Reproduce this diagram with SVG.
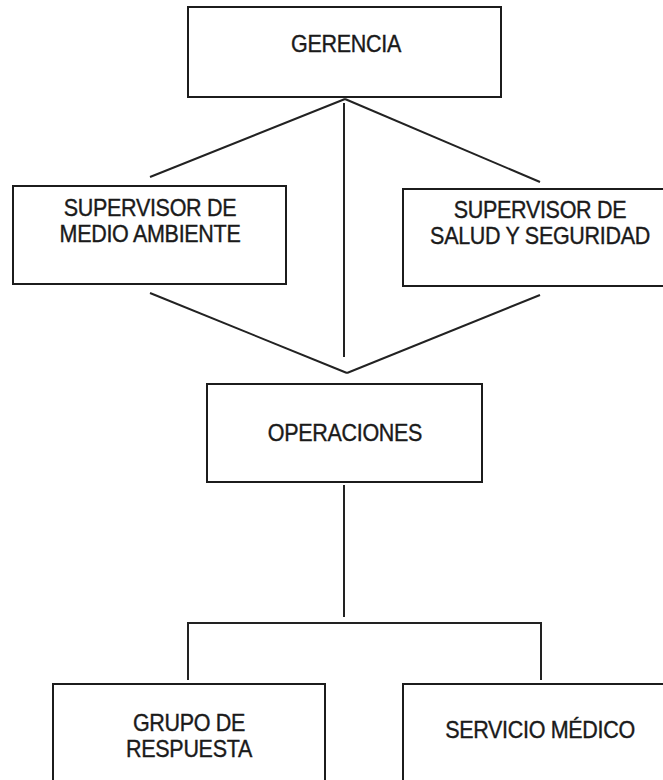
<svg xmlns="http://www.w3.org/2000/svg" width="663" height="780" viewBox="0 0 663 780">
<style>
.box{fill:#fff;stroke:#1c1c1c;stroke-width:2}
.ln{fill:none;stroke:#222;stroke-width:2}
.t{font-family:"Liberation Sans",Arial,sans-serif;font-size:21.5px;fill:#1a1a1a;stroke:#1a1a1a;stroke-width:0.35;text-anchor:middle;letter-spacing:-0.3px}
</style>
<rect width="663" height="780" fill="#fff"/>
<g id="connectors">
<line class="ln" x1="345" y1="99" x2="150" y2="177"/>
<line class="ln" x1="345" y1="99" x2="540" y2="182"/>
<line class="ln" x1="344" y1="103" x2="344" y2="357"/>
<line class="ln" x1="150" y1="293" x2="347" y2="373"/>
<line class="ln" x1="540" y1="295" x2="347" y2="373"/>
<line class="ln" x1="344" y1="485" x2="344" y2="617"/>
<polyline class="ln" points="188,680 188,623 541,623 541,680"/>
</g>
<g id="gerencia">
<rect class="box" x="188" y="7" width="313" height="90"/>
<text class="t" transform="translate(346 52) scale(1 1.08)" x="0" y="0">GERENCIA</text>
</g>
<g id="sup-medio">
<rect class="box" x="13" y="186" width="273" height="98"/>
<text class="t" transform="translate(150 216) scale(1 1.08)" x="0" y="0">SUPERVISOR DE</text>
<text class="t" transform="translate(150 242) scale(1 1.08)" x="0" y="0">MEDIO AMBIENTE</text>
</g>
<g id="sup-salud">
<rect class="box" x="403" y="189" width="274" height="97"/>
<text class="t" transform="translate(540 218) scale(1 1.08)" x="0" y="0">SUPERVISOR DE</text>
<text class="t" transform="translate(540 244) scale(1 1.08)" x="0" y="0">SALUD Y SEGURIDAD</text>
</g>
<g id="operaciones">
<rect class="box" x="207" y="384" width="275" height="98"/>
<text class="t" transform="translate(345 441) scale(1 1.08)" x="0" y="0">OPERACIONES</text>
</g>
<g id="grupo">
<rect class="box" x="53" y="684" width="272" height="110"/>
<text class="t" transform="translate(189 731) scale(1 1.08)" x="0" y="0">GRUPO DE</text>
<text class="t" transform="translate(189 757) scale(1 1.08)" x="0" y="0">RESPUESTA</text>
</g>
<g id="servicio">
<rect class="box" x="403" y="684" width="274" height="110"/>
<text class="t" transform="translate(540 738) scale(1 1.08)" x="0" y="0">SERVICIO MÉDICO</text>
</g>
</svg>
